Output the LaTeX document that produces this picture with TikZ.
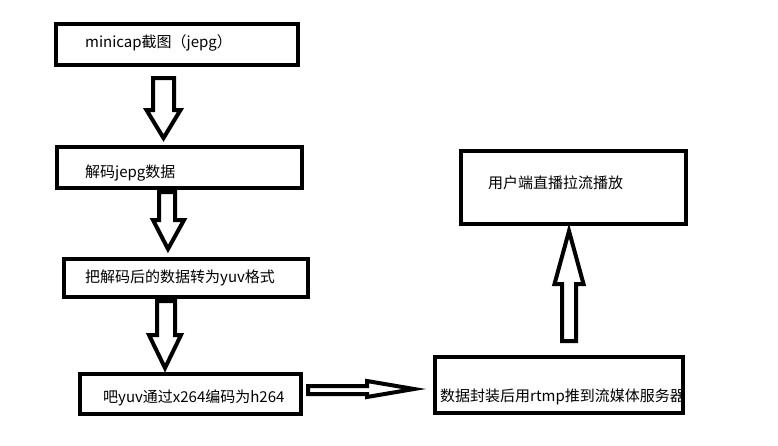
\documentclass[tikz,border=0pt]{standalone}
\usepackage{fontspec}
\setmainfont{Noto Sans CJK SC}
\begin{document}
\begin{tikzpicture}[x=1pt,y=-1pt,
  box/.style={draw, line width=4pt, inner sep=0pt},
  lbl/.style={anchor=west, inner sep=0pt, font=\fontsize{15}{17}\selectfont},
  barrow/.style={draw, line width=4pt, line join=miter, fill=white}]
\useasboundingbox (0,0) rectangle (778,445);
% boxes
\node[box, minimum width=242pt, minimum height=41pt] (b1) at (177,44.5) {};
\node[box, minimum width=245pt, minimum height=41pt] (b2) at (179.5,167.5) {};
\node[box, minimum width=244pt, minimum height=38pt] (b3) at (186,278) {};
\node[box, minimum width=221pt, minimum height=40pt] (b4) at (190.5,394) {};
\node[box, minimum width=248pt, minimum height=56pt] (b5) at (559,385) {};
\node[box, minimum width=225pt, minimum height=73pt] (b6) at (573.5,187.5) {};
% labels
\node[lbl] (t1) at (85,43) {minicap截图（jepg）};
\node[lbl] (t2) at (85,173) {解码jepg数据};
\node[lbl] (t3) at (85,278) {把解码后的数据转为yuv格式};
\node[lbl] (t4) at (103,398) {吧yuv通过x264编码为h264};
\node[lbl] (t6) at (488,183) {用户端直播拉流播放};
\node[lbl] (t5) at (440,397) {数据封装后用rtmp推到流媒体服务器};
% block arrows
\draw[barrow] (153,78) -- (174,78) -- (174,110) -- (180.5,110) -- (163.5,138) -- (146.5,110) -- (153,110) -- cycle;
\draw[barrow] (159,192) -- (175,192) -- (175,220) -- (184,220) -- (168,249) -- (153,220) -- (159,220) -- cycle;
\draw[barrow] (157,301) -- (175,301) -- (175,335) -- (181,335) -- (165,368) -- (149,335) -- (157,335) -- cycle;
\draw[barrow] (308,386) -- (367,386) -- (367,381) -- (414,389) -- (367,397) -- (367,394) -- (308,394) -- cycle;
\draw[barrow] (562,341) -- (562,284) -- (554.5,284) -- (569,231) -- (583.5,284) -- (576,284) -- (576,341) -- cycle;
\end{tikzpicture}
\end{document}
